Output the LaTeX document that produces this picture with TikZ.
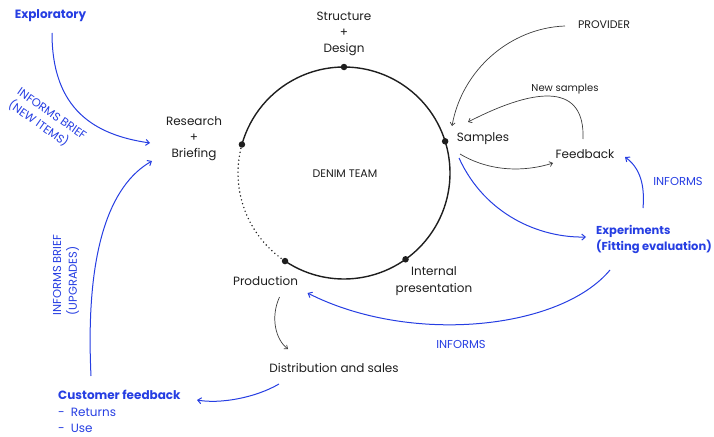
\documentclass[tikz,border=0pt]{standalone}
\usepackage{fontspec}
\setmainfont{Poppins}
\usetikzlibrary{arrows.meta}
\definecolor{inkblue}{RGB}{38,62,226}
\definecolor{ink}{RGB}{30,30,30}
\definecolor{wire}{RGB}{60,60,60}
\begin{document}
\begin{tikzpicture}[x=1pt,y=1pt,
  lbl/.style={inner sep=0pt,text=ink,font=\fontsize{12}{16}\selectfont},
  small/.style={inner sep=0pt,text=ink,font=\fontsize{10}{12}\selectfont},
  caps/.style={inner sep=0pt,text=ink,font=\fontsize{11}{13}\selectfont},
  bluebold/.style={inner sep=0pt,text=inkblue,font=\fontsize{12}{16}\selectfont\bfseries},
  bluecaps/.style={inner sep=0pt,text=inkblue,font=\fontsize{11.5}{15.7}\selectfont},
  flow/.style={draw=wire,line width=0.7pt,-{Straight Barb[length=3pt,width=5pt]}},
  blueflow/.style={draw=inkblue,line width=1pt,-{Straight Barb[length=3.5pt,width=6pt]}},
  ring/.style={draw=ink,line width=1.4pt},
  gap/.style={draw=ink,line width=1.6pt,line cap=round,dash pattern=on 0pt off 4pt},
  dot/.style={circle,fill=ink,inner sep=0pt,minimum size=6.5pt}]
\useasboundingbox (0,0) rectangle (714,-436);

% team cycle
\coordinate (C) at (344,-173);
\draw[ring] (C) ++(236.2:106) arc[start angle=236.2,end angle=524.4,radius=106];
\draw[gap] (C) ++(164.4:106) arc[start angle=164.4,end angle=236.2,radius=106];
\node[dot] (dtop) at ([shift={(90:106)}]C) {};
\node[dot] (dright) at ([shift={(17.4:106)}]C) {};
\node[dot] (dleft) at ([shift={(164.4:106)}]C) {};
\node[dot] (dprod) at ([shift={(236.2:106)}]C) {};
\node[dot] (dint) at ([shift={(305.5:106)}]C) {};

% labels
\node[bluebold] (expl) at (50.5,-16) {Exploratory};
\node[lbl,align=center] (struct) at (344,-34) {Structure\\+\\Design};
\node[caps] (provider) at (604,-25) {PROVIDER};
\node[small] (newsamp) at (565,-89) {New samples};
\node[lbl] (samples) at (483,-139) {Samples};
\node[lbl] (feedback) at (585,-154) {Feedback};
\node[bluecaps] (inf1) at (678,-181) {INFORMS};
\node[bluebold,align=left,anchor=west,font=\fontsize{11.5}{16}\selectfont\bfseries] (exper) at (596,-239) {Experiments\\(Fitting evaluation)};
\node[lbl,align=center] (research) at (194,-139) {Research\\+\\Briefing};
\node[caps] (denim) at (345,-174) {DENIM TEAM};
\node[lbl] (production) at (265.5,-281) {Production};
\node[lbl,align=center,font=\fontsize{12}{16.5}\selectfont] (internal) at (434,-281) {Internal\\presentation};
\node[bluecaps] (inf2) at (461,-344) {INFORMS};
\node[lbl] (distrib) at (334,-368) {Distribution and sales};
\node[inner sep=0pt,anchor=north west,text=inkblue,align=left,font=\fontsize{12}{16.5}\selectfont] (customer) at (58,-390)
  {\textbf{Customer feedback}\\
   -\hspace{6pt}Returns\\
   -\hspace{6pt}Use};
\node[bluecaps,align=left,rotate=-35] (brief1) at (47,-121) {INFORMS BRIEF\\(NEW ITEMS)};
\node[bluecaps,align=left,rotate=90] (brief2) at (66,-275) {INFORMS BRIEF\\(UPGRADES)};

% connectors
\draw[blueflow] ([shift={(1.5,-17)}]expl.center) .. controls (52,-110) and (95,-135) .. ([shift={(-44,-4)}]research.center);
\draw[blueflow] ([shift={(33,14)}]customer.north west) .. controls (85,-250) and (110,-185) .. ([shift={(-42,-22)}]research.center);
\draw[flow] ([shift={(-39,-1)}]provider.center) .. controls (510,-28) and (462,-70) .. ([shift={(-31,13)}]samples.center);
\draw[flow] ([shift={(-2,15)}]feedback.center) .. controls (585,-85) and (540,-85) .. ([shift={(-15,17)}]samples.center);
\draw[flow] ([shift={(-23,-15)}]samples.center) .. controls (490,-172) and (525,-172) .. ([shift={(-32,-9)}]feedback.center);
\draw[blueflow] ([shift={(-24,-19)}]samples.center) .. controls (485,-215) and (540,-238) .. ([shift={(-10,2)}]exper.west);
\draw[blueflow] ([shift={(47,31)}]exper.west) .. controls (645,-185) and (640,-168) .. ([shift={(40,-3)}]feedback.center);
\draw[blueflow] ([shift={(14,-31)}]exper.west) .. controls (560,-330) and (410,-345) .. ([shift={(42,-12)}]production.center);
\draw[flow] ([shift={(14,-16)}]production.center) .. controls (270,-318) and (276,-340) .. ([shift={(-46,19)}]distrib.center);
\draw[blueflow] ([shift={(-55,-16)}]distrib.center) .. controls (255,-398) and (220,-404) .. ([shift={(139,-10)}]customer.north west);
\end{tikzpicture}
\end{document}
